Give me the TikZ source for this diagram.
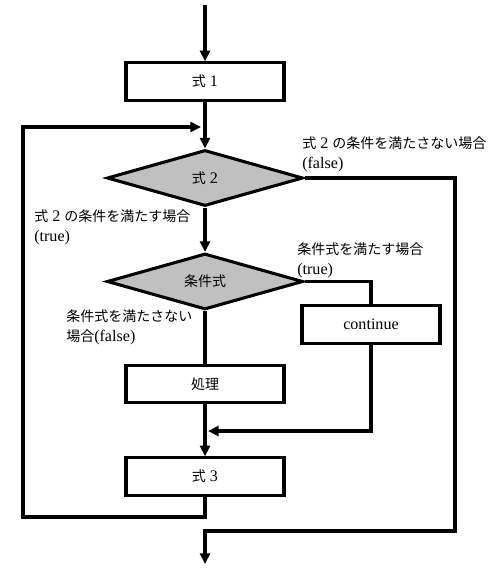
\documentclass[tikz,border=0pt]{standalone}
\usepackage{fontspec}
\setmainfont{Liberation Serif}[Scale=1.15]
\newfontfamily\jp{Noto Sans CJK JP}
\usetikzlibrary{shapes.geometric,arrows.meta}
\definecolor{dgray}{RGB}{192,192,192}
\tikzset{
  flow/.style={line width=2.3pt, line join=miter},
  arr/.style={flow, -{Triangle[width=7.5pt,length=8pt]}},
  procbox/.style={draw, line width=2.3pt, minimum width=118.5pt, minimum height=28pt, inner sep=0pt, font=\fontsize{10.5pt}{13pt}\selectfont},
  decision/.style={draw, line width=2.3pt, diamond, fill=dgray, minimum width=147pt, minimum height=42pt, inner sep=0pt, font=\fontsize{10.5pt}{13pt}\selectfont},
  lbl/.style={align=left, anchor=west, inner sep=0pt, font=\fontsize{10.5pt}{15pt}\selectfont}
}
\begin{document}
\begin{tikzpicture}[x=0.75pt,y=-0.75pt]
\useasboundingbox (0,0) rectangle (497,575);
\coordinate (start) at (205,5);
\node[procbox] (e1) at (205,81.5) {{\jp 式} 1};
\node[decision] (e2) at (205,178) {{\jp 式} 2};
\node[decision] (cond) at (205,281.5) {{\jp 条件式}};
\node[procbox, minimum width=103.5pt, minimum height=29pt] (cont) at (371,324.5) {continue};
\node[procbox] (proc) at (205,384) {{\jp 処理}};
\node[procbox] (e3) at (205,476.5) {{\jp 式} 3};
\coordinate (loopend) at (201,127);
\coordinate (mergeend) at (208,431);
\coordinate (endpt) at (205,564);

\node[lbl] (lf2) at (302,154) {{\jp 式} 2 {\jp の条件を満たさない場合}\\(false)};
\node[lbl] (lt2) at (34,227) {{\jp 式} 2 {\jp の条件を満たす場合}\\(true)};
\node[lbl] (ltc) at (297,260) {{\jp 条件式を満たす場合}\\(true)};
\node[lbl] (lfc) at (66,327.5) {{\jp 条件式を満たさない}\\{\jp 場合}(false)};

\draw[arr] (start) -- (e1.north);
\draw[arr] (e1.south) -- (e2.north);
\draw[arr] (e3.south) -- (205,517) -- (23,517) -- (23,127) -- (loopend);
\draw[arr] (e2.east) -- (455,178) -- (455,531) -- (205,531) -- (endpt);
\draw[arr] (e2.south) -- (cond.north);
\draw[flow] (cond.east) -- (cont.north |- cond.east) -- (cont.north);
\draw[flow] (cond.south) -- (proc.north);
\draw[arr] (proc.south) -- (e3.north);
\draw[arr] (cont.south) -- (cont.south |- mergeend) -- (mergeend);
\end{tikzpicture}
\end{document}
